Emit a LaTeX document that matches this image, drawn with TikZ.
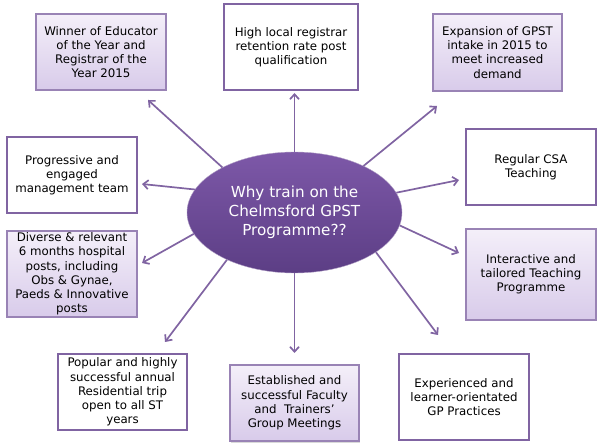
\documentclass[tikz,border=0pt]{standalone}
\usepackage{fontspec}
\setmainfont{DejaVu Sans}
\usepackage{xcolor}
\usepackage{tikz}
\usetikzlibrary{arrows.meta,shadows,shapes.geometric}

\definecolor{edgepurple}{HTML}{8064A2}
\definecolor{lavtop}{HTML}{F4EFF9}
\definecolor{lavbot}{HTML}{D8CBEA}
\definecolor{hubtop}{HTML}{7D58A8}
\definecolor{hubbot}{HTML}{5C3E85}

\begin{document}
\begin{tikzpicture}[
        x=1pt, y=-1pt,
        font=\fontsize{11.8}{14.2}\selectfont,
        box/.style={draw=edgepurple, line width=1.5pt, fill=white, align=center, inner sep=0pt, minimum width=130pt, minimum height=76pt},
        lav/.style={box, draw=edgepurple!80, top color=lavtop, bottom color=lavbot,
            drop shadow={opacity=0.3, shadow xshift=1pt, shadow yshift=-1.5pt}},
        hub/.style={ellipse, draw=edgepurple!60!white, thin, top color=hubtop, bottom color=hubbot, text=white, align=center,
            inner sep=0pt, minimum width=215pt, minimum height=121pt, font=\fontsize{15.2}{19}\selectfont},
        arr/.style={-{Straight Barb[length=5pt, width=9pt]}, line width=1.7pt, draw=edgepurple}
    ]
        \useasboundingbox (0,0) rectangle (600,446);

        \node[hub] (why) at (294.5,212.5) {Why train on the\\Chelmsford GPST\\Programme??};

        % outer boxes
        \node[lav] (award) at (101,52) {Winner of Educator\\of the Year and\\Registrar of the\\Year 2015};
        \node[box, minimum width=134pt, minimum height=86pt] (retain) at (291,47) {High local registrar\\retention rate post\\qualification};
        \node[lav, minimum width=129pt, minimum height=77pt] (intake) at (497.5,52.5) {Expansion of GPST\\intake in 2015 to\\meet increased\\demand};
        \node[box] (csa) at (531,167) {Regular CSA\\Teaching};
        \node[box] (mgmt) at (72,175) {Progressive and\\engaged\\management team};
        \node[lav, minimum height=86pt] (posts) at (72,274) {Diverse \& relevant\\6 months hospital\\posts, including\\Obs \& Gynae,\\Paeds \& Innovative\\posts};
        \node[lav, minimum height=91pt] (teach) at (531,274.5) {Interactive and\\tailored Teaching\\Programme};
        \node[box, minimum width=129pt] (trip) at (122.5,392) {Popular and highly\\successful annual\\Residential trip\\open to all ST\\years};
        \node[lav, minimum width=129pt] (faculty) at (294.5,403) {Established and\\successful Faculty\\and\ \ Trainers’\\Group Meetings};
        \node[box, minimum height=86pt] (practice) at (464,397) {Experienced and\\learner-orientated\\GP Practices};

        % arrow tips stop short of the boxes
        \coordinate (awardTip) at (148,100);
        \coordinate (retainTip) at (294.5,93);
        \coordinate (intakeTip) at (437,106);
        \coordinate (csaTip) at (459,180);
        \coordinate (mgmtTip) at (142,184);
        \coordinate (postsTip) at (142,263);
        \coordinate (teachTip) at (459,253);
        \coordinate (tripTip) at (165,342);
        \coordinate (facultyTip) at (294.5,353);
        \coordinate (practiceTip) at (438,335);

        \draw[arr] (why.148.5) -- (awardTip);
        \draw[arr] (why.90) -- (retainTip);
        \draw[arr] (why.34.6) -- (intakeTip);
        \draw[arr] (why.11) -- (csaTip);
        \draw[arr] (why.167) -- (mgmtTip);
        \draw[arr] (why.192) -- (postsTip);
        \draw[arr] (why.-7) -- (teachTip);
        \draw[arr] (why.215.6) -- (tripTip);
        \draw[arr] (why.270) -- (facultyTip);
        \draw[arr] (why.-26) -- (practiceTip);
    \end{tikzpicture}
\end{document}
